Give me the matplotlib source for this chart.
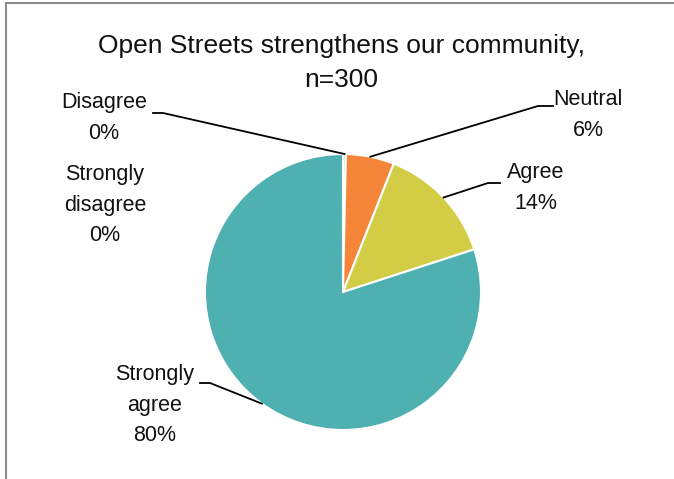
import numpy as np
import matplotlib.pyplot as plt
from matplotlib.lines import Line2D

plt.rcParams['font.family'] = ['Liberation Sans', 'DejaVu Sans']

# survey responses (counts out of n=300)
categories = ['Strongly\ndisagree', 'Disagree', 'Neutral', 'Agree', 'Strongly\nagree']
counts = [0, 1, 17, 42, 240]
colors = ['#4F81BD', '#A9D8DE', '#F58539', '#D3CC45', '#4FB0B1']
n_total = 300

W, H = 674, 479
cx, cy, R = 343, 292, 138   # pie centre / radius in pixels (from top-left)

fig = plt.figure(figsize=(W / 100, H / 100), dpi=100)
ax = fig.add_axes([(cx - R) / W, (H - cy - R) / H, 2 * R / W, 2 * R / H])

wedges, _ = ax.pie(counts, colors=colors, startangle=90, counterclock=False, radius=1,
                   wedgeprops=dict(edgecolor='white', linewidth=1.5))
ax.set_xlim(-1, 1)
ax.set_ylim(-1, 1)
ax.set_aspect('equal')
ax.axis('off')


def px(x, y):
    # pixel position -> pie data coords
    return (x - cx) / R, (cy - y) / R


# label text centre, elbow end near the label (None = no leader line)
label_pos = {
    'Strongly\ndisagree': ((105, 205), None),
    'Disagree': ((104, 118), (153, 113), (163, 113)),
    'Neutral': ((588, 115), (553, 106), (538, 106)),
    'Agree': ((536, 188), (500, 183), (488, 183)),
    'Strongly\nagree': ((155, 405), (200, 383), (210, 383)),
}

for w, cat, c in zip(wedges, categories, counts):
    pct = 100 * c / n_total
    info = label_pos[cat]
    tx, ty = px(*info[0])
    ax.text(tx, ty, f'{cat}\n{pct:.0f}%', ha='center', va='center', fontsize=15.5,
            color='#111111', linespacing=1.58, clip_on=False)
    if info[1] is None:
        continue
    mid = np.deg2rad((w.theta1 + w.theta2) / 2)
    ex, ey = np.cos(mid), np.sin(mid)
    ax1, ay1 = px(*info[1])
    ax2, ay2 = px(*info[2])
    ax.add_line(Line2D([ax1, ax2, ex], [ay1, ay2, ey], color='black', lw=1.3,
                       clip_on=False))

fig.text(341 / W, 1 - 63 / H, 'Open Streets strengthens our community,\nn=300',
         ha='center', va='center', fontsize=19, color='#111111', linespacing=1.5)

# chart area border (cut off at right/bottom)
fig.add_artist(Line2D([6 / W, 6 / W], [0, 1 - 3 / H], color='#8c8c8c', lw=1.5))
fig.add_artist(Line2D([6 / W, 1], [1 - 3 / H, 1 - 3 / H], color='#8c8c8c', lw=1.5))

fig.savefig('out.png', dpi=100)
